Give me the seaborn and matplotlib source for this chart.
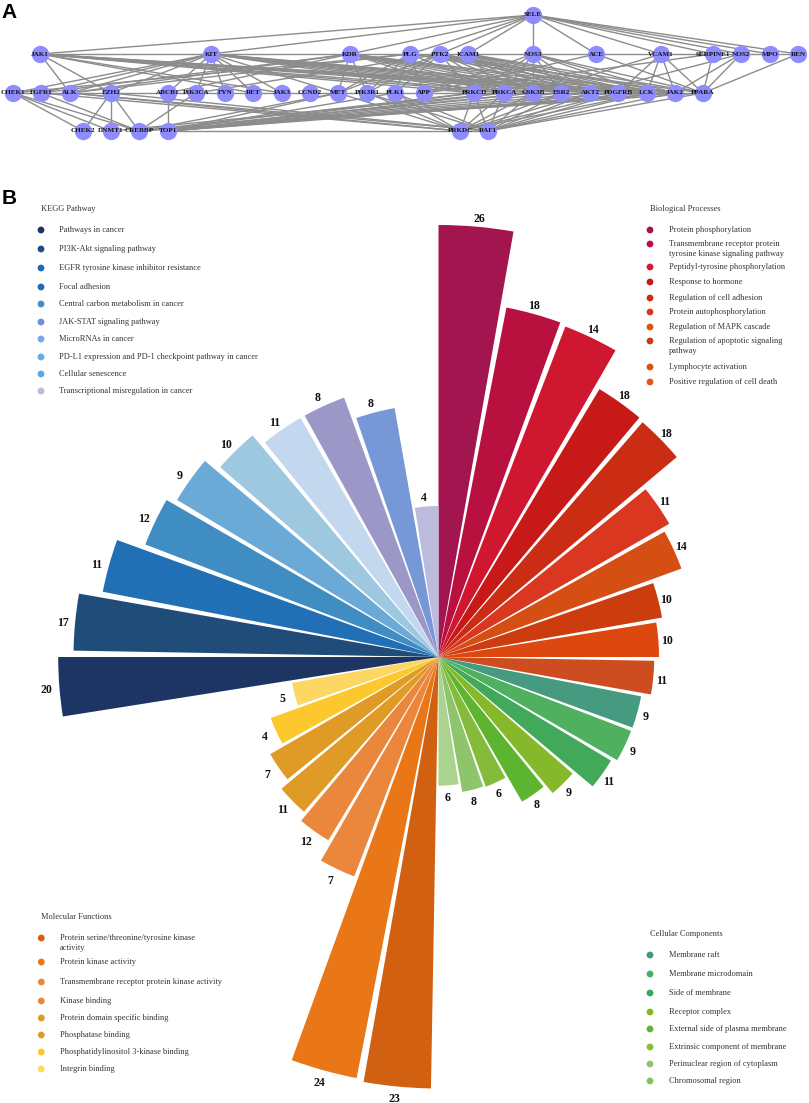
import numpy as np
import pandas as pd
import seaborn as sns
import matplotlib.pyplot as plt

# ---- panel A network
row_y = [15, 54, 93, 131]
row_top = ['SELE']
row_top_x = [533]
row_two = ['JAK1', 'KIT', 'KDR', 'PLG', 'PTK2', 'ICAM1', 'NOS3', 'ACE', 'VCAM1', 'SERPINE1', 'NOS2', 'MPO', 'REN']
row_two_x = [40, 211, 350, 410, 440, 468, 533, 596, 661, 713, 741, 770, 798]
row_three = ['CHEK1', 'FGFR1', 'ALK', 'EZH2', 'ABCB1', 'PIK3CA', 'FYN', 'RET', 'JAK3', 'CCND2', 'MET', 'PIK3R1', 'PLK1',
             'APP', 'PRKCD', 'PRKCA', 'GSK3B', 'ESR2', 'AKT2', 'PDGFRB', 'LCK', 'JAK2', 'PPARA']
row_three_x = [13, 41, 70, 111, 168, 196, 225, 253, 282, 310, 338, 367, 395, 424, 474, 504, 533, 561, 590, 618, 647, 675, 703]
row_four = ['CHEK2', 'DNMT1', 'CREBBP', 'TOP1', 'PRKDC', 'RAF1']
row_four_x = [83, 111, 139, 168, 460, 488]

links = {
    'SELE': ['JAK1', 'KIT', 'KDR', 'PLG', 'PTK2', 'ICAM1', 'NOS3', 'ACE', 'VCAM1', 'SERPINE1', 'NOS2', 'MPO', 'REN'],
    'JAK1': ['REN', 'ALK', 'EZH2', 'RET', 'JAK3', 'PRKCD', 'PRKCA', 'GSK3B', 'AKT2', 'LCK', 'JAK2', 'PDGFRB'],
    'KIT': ['CHEK1', 'FGFR1', 'ALK', 'EZH2', 'ABCB1', 'PIK3CA', 'FYN', 'RET', 'JAK3', 'MET', 'PRKCD', 'PRKCA', 'GSK3B',
            'ESR2', 'AKT2', 'PDGFRB', 'LCK', 'JAK2'],
    'KDR': ['FGFR1', 'ALK', 'ABCB1', 'MET', 'PIK3R1', 'PRKCD', 'PRKCA', 'GSK3B', 'ESR2', 'AKT2', 'PDGFRB', 'LCK', 'JAK2'],
    'PLG': ['CHEK1', 'ALK', 'MET', 'PIK3R1', 'PLK1', 'APP', 'PPARA', 'PRKCA', 'LCK'],
    'PTK2': ['PIK3CA', 'MET', 'PIK3R1', 'PLK1', 'PRKCD', 'PRKCA', 'GSK3B', 'ESR2', 'AKT2', 'PDGFRB', 'LCK', 'JAK2'],
    'ICAM1': ['PRKCA', 'GSK3B', 'ESR2', 'AKT2', 'PDGFRB', 'LCK', 'JAK2', 'PPARA'],
    'NOS3': ['PRKCD', 'PRKCA', 'GSK3B', 'ESR2', 'AKT2', 'LCK', 'JAK2', 'PPARA', 'APP'],
    'ACE': ['APP', 'PPARA'],
    'VCAM1': ['PDGFRB', 'LCK', 'JAK2', 'PPARA', 'GSK3B'],
    'SERPINE1': ['PPARA', 'APP'],
    'NOS2': ['PPARA', 'JAK2', 'AKT2'],
    'REN': ['PPARA'],
    'CHEK1': ['PPARA', 'CHEK2', 'DNMT1', 'CREBBP'],
    'FGFR1': ['CREBBP', 'PRKDC'],
    'ALK': ['RAF1', 'PRKDC'],
    'EZH2': ['CHEK2', 'DNMT1', 'CREBBP', 'RAF1'],
    'ABCB1': ['TOP1'],
    'PIK3CA': ['CREBBP'],
    'TOP1': ['RAF1', 'MET', 'PLK1', 'PRKCD', 'PRKCA', 'GSK3B', 'ESR2', 'AKT2', 'PDGFRB', 'LCK', 'JAK2'],
    'CREBBP': ['MET', 'PRKCD', 'GSK3B', 'JAK2', 'PPARA'],
    'DNMT1': ['PRKCA'],
    'PRKDC': ['PRKCD', 'PRKCA', 'GSK3B', 'ESR2', 'AKT2', 'PDGFRB', 'LCK', 'PIK3R1', 'PLK1', 'MET'],
    'RAF1': ['PRKCD', 'PRKCA', 'GSK3B', 'ESR2', 'AKT2', 'PDGFRB', 'LCK', 'JAK2', 'PPARA', 'PLK1', 'PIK3R1'],
}

# ---- panel B, one bar every 10 degrees clockwise from the top
go_terms = ['BP'] * 10 + ['CC'] * 8 + ['MF'] * 8 + ['KEGG'] * 10
gene_counts = [26, 18, 14, 18, 18, 11, 14, 10, 10, 11,
               9, 9, 11, 9, 8, 6, 8, 6,
               23, 24, 7, 12, 11, 7, 4, 5,
               20, 17, 11, 12, 9, 10, 11, 8, 8, 4]
# drawn length of each bar, the labels above are not proportional to it
bar_lengths = [432, 356, 354, 312.5, 311, 266.5, 258.5, 227, 220.5, 215.7,
               206.4, 206.3, 201.2, 177.6, 167, 138, 137, 128.7,
               431.5, 429, 235, 213.8, 205, 194.3, 178.5, 148.7,
               380.3, 365, 342, 314, 305, 289.3, 276, 276, 252.7, 151]
bar_colors = ['#A3154F', '#B81140', '#CF1730', '#C71A18', '#CB2C14', '#DA3720', '#D54F14', '#CC3C0F', '#DD4710', '#CD4D20',
              '#459A80', '#4FB060', '#43A95A', '#86B92A', '#5DB52F', '#85BB3A', '#8EC56C', '#A9D38E',
              '#D16010', '#E97718', '#EB873C', '#EB873C', '#E09B26', '#E09B26', '#FDC82D', '#FDD763',
              '#1C3563', '#204C7A', '#2170B5', '#408DC3', '#6BAAD6', '#9DC8E0', '#C3D8EE', '#9B98C7', '#7698D6', '#BBBBDD']

kegg_title = 'KEGG Pathway'
kegg_names = ['Pathways in cancer', 'PI3K-Akt signaling pathway', 'EGFR tyrosine kinase inhibitor resistance', 'Focal adhesion',
              'Central carbon metabolism in cancer', 'JAK-STAT signaling pathway', 'MicroRNAs in cancer',
              'PD-L1 expression and PD-1 checkpoint pathway in cancer', 'Cellular senescence',
              'Transcriptional misregulation in cancer']
kegg_dots = ['#1C3563', '#1E4C7F', '#1B6CB5', '#1B6CB5', '#3F8FC8', '#7090D5', '#73A8F0', '#62AEDC', '#62A8D8', '#BBBBDD']
kegg_y = [230, 249, 268, 287, 304, 322, 339, 357, 374, 391]

bp_title = 'Biological Processes'
bp_names = ['Protein phosphorylation', 'Transmembrane receptor protein\ntyrosine kinase signaling pathway',
            'Peptidyl-tyrosine phosphorylation', 'Response to hormone', 'Regulation of cell adhesion',
            'Protein autophosphorylation', 'Regulation of MAPK cascade', 'Regulation of apoptotic signaling\npathway',
            'Lymphocyte activation', 'Positive regulation of cell death']
bp_dots = ['#A3154F', '#B81140', '#D81530', '#C71A18', '#CB2C14', '#DA3720', '#E0500F', '#CC3C0F', '#E04E10', '#D95A20']
bp_y = [230, 244, 267, 282, 298, 312, 327, 341, 367, 382]

mf_title = 'Molecular Functions'
mf_names = ['Protein serine/threonine/tyrosine kinase\nactivity', 'Protein kinase activity',
            'Transmembrane receptor protein kinase activity', 'Kinase binding', 'Protein domain specific binding',
            'Phosphatase binding', 'Phosphatidylinositol 3-kinase binding', 'Integrin binding']
mf_dots = ['#D2600F', '#E97718', '#EE8838', '#EE8838', '#E09B26', '#E09B26', '#FFC82D', '#FFD860']
mf_y = [938, 962, 982, 1001, 1018, 1035, 1052, 1069]

cc_title = 'Cellular Components'
cc_names = ['Membrane raft', 'Membrane microdomain', 'Side of membrane', 'Receptor complex', 'External side of plasma membrane',
            'Extrinsic component of membrane', 'Perinuclear region of cytoplasm', 'Chromosomal region']
cc_dots = ['#3C9A80', '#45AE60', '#39A85A', '#86B91A', '#5DB52F', '#85C030', '#8EC56C', '#85C060']
cc_y = [955, 974, 993, 1012, 1029, 1047, 1064, 1081]

SERIF = 'Liberation Serif'

sns.set_theme(style='white')
fig = plt.figure(figsize=(8.09, 11.03), dpi=100)

# polar axes sized so one radial unit is one pixel
cx, cy, rmax = 438.5, 657, 445
polar = fig.add_axes([(cx - rmax) / 809, (1103 - cy - rmax) / 1103, 2 * rmax / 809, 2 * rmax / 1103], projection='polar')
polar.set_theta_zero_location('N')
polar.set_theta_direction(-1)

n_bars = len(gene_counts)
centers = np.deg2rad(10 * np.arange(1, n_bars + 1) - 4.5)
bars = pd.DataFrame({'theta': centers, 'length': bar_lengths, 'term': [f'{g}{i}' for i, g in enumerate(go_terms)]})
sns.barplot(data=bars, x='theta', y='length', hue='term', palette=dict(zip(bars['term'], bar_colors)), dodge=False,
            native_scale=True, width=0.9, saturation=1, linewidth=0, legend=False, ax=polar)
# first bar starts right on the vertical
first = polar.patches[0]
first.set_x(0)
first.set_width(np.deg2rad(10))

polar.set_ylim(0, rmax)
polar.set_xlim(0, 2 * np.pi)
polar.axis('off')
polar.patch.set_alpha(0)

for theta, length, count in zip(centers, bar_lengths, gene_counts):
    polar.annotate(str(count), xy=(theta, length + 10.5), xytext=(-2, -2), textcoords='offset pixels', ha='center', va='center',
                   fontsize=8.6, fontweight='bold', family=SERIF, color='#111111', annotation_clip=False)

# overlay in picture pixels, for the network and the four keys
ax = fig.add_axes([0, 0, 1, 1])
ax.set_xlim(0, 809)
ax.set_ylim(1103, 0)
ax.axis('off')
ax.patch.set_alpha(0)

names = row_top + row_two + row_three + row_four
xs = row_top_x + row_two_x + row_three_x + row_four_x
ys = [row_y[0]] * len(row_top) + [row_y[1]] * len(row_two) + [row_y[2]] * len(row_three) + [row_y[3]] * len(row_four)
nodes = pd.DataFrame({'name': names, 'x': xs, 'y': ys}).set_index('name')

for src, targets in links.items():
    for dst in targets:
        ax.plot([nodes.x[src], nodes.x[dst]], [nodes.y[src], nodes.y[dst]], color='#8c8c8c', lw=1.0, zorder=1)

sns.scatterplot(data=nodes, x='x', y='y', s=155, color='#8F8CFF', linewidth=0, legend=False, zorder=2, ax=ax)
for name, row in nodes.iterrows():
    ax.text(row.x, row.y, name, ha='center', va='center', fontsize=5.1, fontweight='bold', family=SERIF, color='#111111', zorder=3)


def draw_key(title, title_y, labels, dots, ys, dot_x, text_x):
    ax.text(dot_x, title_y, title, ha='left', va='center', fontsize=6.05, family=SERIF, color='#333333')
    key = pd.DataFrame({'x': dot_x, 'y': ys, 'label': labels})
    sns.scatterplot(data=key, x='x', y='y', hue='label', palette=dict(zip(labels, dots)), s=24, linewidth=0, legend=False, ax=ax)
    for y, label in zip(ys, labels):
        offset = 5 if '\n' in label else 0
        ax.text(text_x, y + offset, label, ha='left', va='center', fontsize=6.05, family=SERIF, color='#333333', linespacing=1.4)


draw_key(kegg_title, 209, kegg_names, kegg_dots, kegg_y, 41, 59.5)
draw_key(bp_title, 209, bp_names, bp_dots, bp_y, 650, 668.7)
draw_key(mf_title, 917, mf_names, mf_dots, mf_y, 41.3, 59.7)
draw_key(cc_title, 934, cc_names, cc_dots, cc_y, 650, 668.7)
ax.set_xlabel('')
ax.set_ylabel('')
ax.set_xlim(0, 809)
ax.set_ylim(1103, 0)

ax.text(1.5, 12, 'A', ha='left', va='center', fontsize=15, fontweight='bold', family='Liberation Sans', color='black')
ax.text(1.5, 198, 'B', ha='left', va='center', fontsize=15, fontweight='bold', family='Liberation Sans', color='black')

fig.savefig('out.png', dpi=100)
